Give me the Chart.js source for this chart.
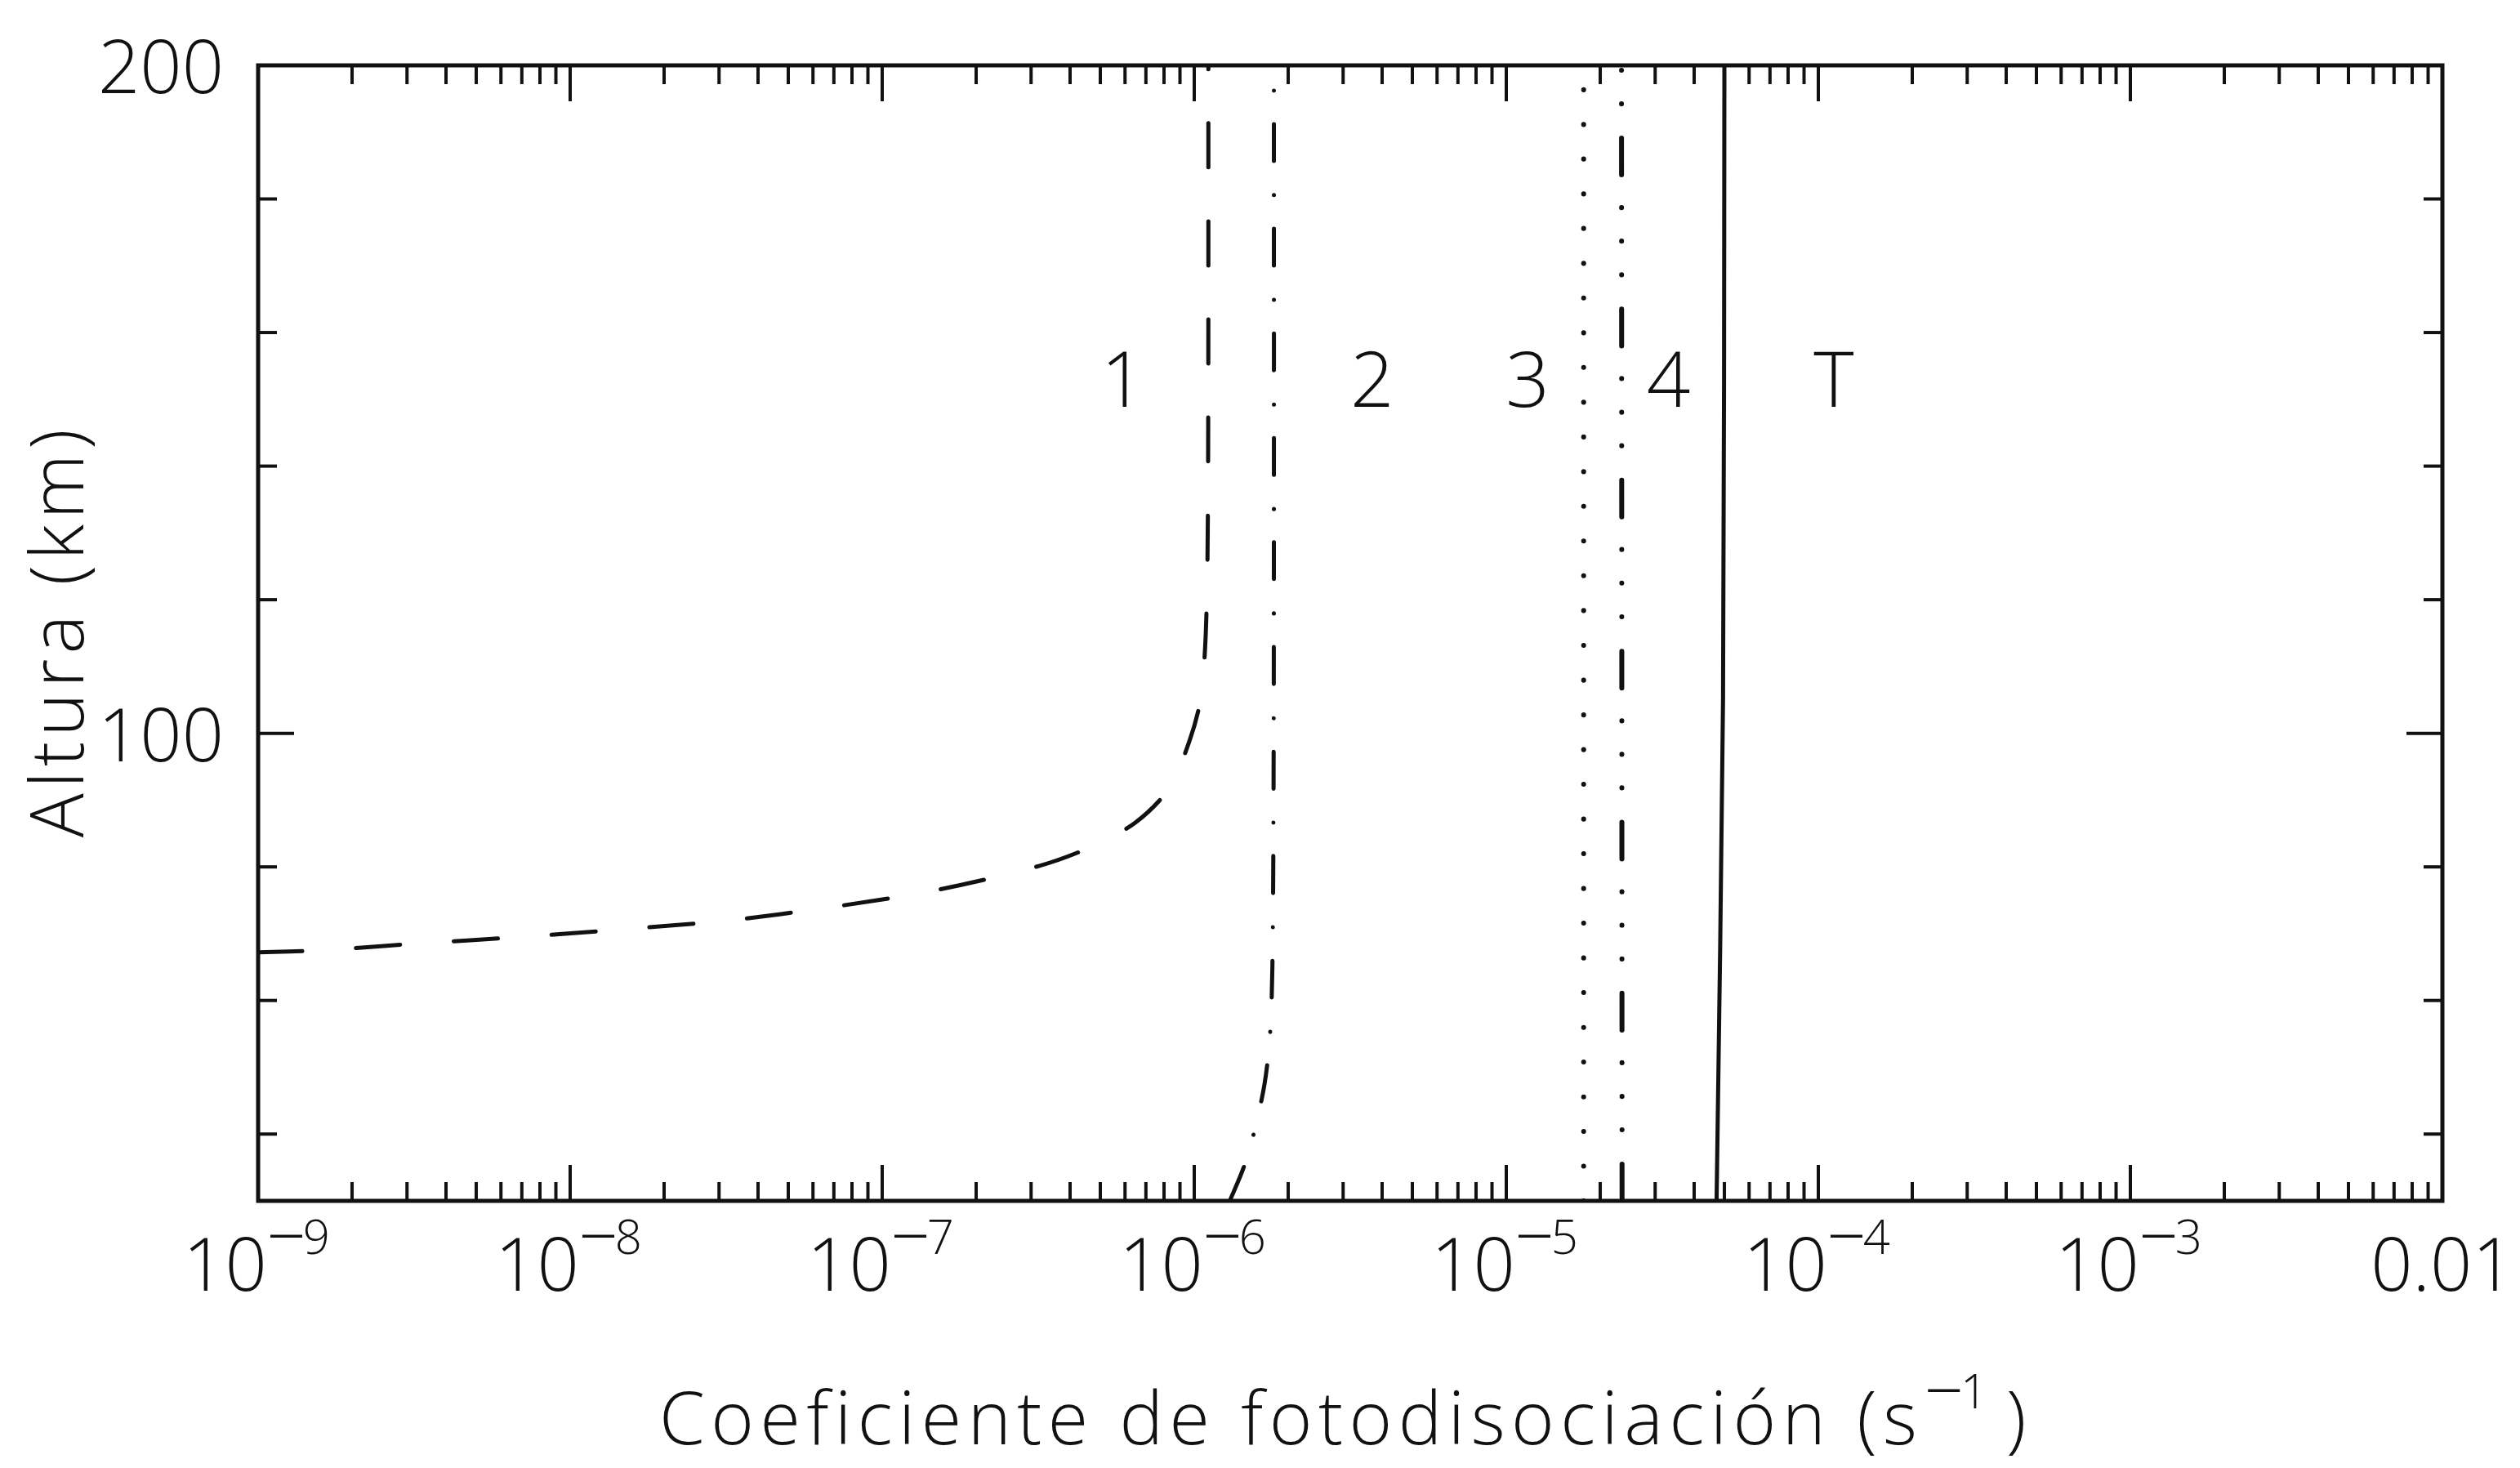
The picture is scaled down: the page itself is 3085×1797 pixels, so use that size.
<!DOCTYPE html>
<html>
<head>
<meta charset="utf-8">
<script src="https://cdn.jsdelivr.net/npm/chart.js@4.4.1/dist/chart.umd.min.js"></script>
<style>
html,body{margin:0;padding:0;background:#ffffff;}
#wrap{width:3085px;height:1797px;position:relative;background:#ffffff;}
canvas{display:block;}
</style>
</head>
<body>
<div id="wrap"><canvas id="c" width="3085" height="1797"></canvas></div>
<script>
// ---------------- data ----------------
const xMin = 1e-9, xMax = 1e-2;
const yMin = 30, yMax = 200;

const xMajorTicks = [1e-9, 1e-8, 1e-7, 1e-6, 1e-5, 1e-4, 1e-3, 1e-2];
const xTickBase   = ['10', '10', '10', '10', '10', '10', '10', '0.01'];
const xTickExp    = ['\u22129', '\u22128', '\u22127', '\u22126', '\u22125', '\u22124', '\u22123', ''];
const yMajorTicks = [100, 200];
const yTickLabels = ['100', '200'];
const yMinorTicks = [40, 60, 80, 120, 140, 160, 180];

// Curve 1 (long dashes)
const curve1X = [1.00e-9, 1.585e-9, 3.16e-9, 6.92e-9, 1.51e-8, 3.24e-8, 6.92e-8, 1.48e-7, 3.16e-7,
                 4.57e-7, 6.46e-7, 8.32e-7, 9.66e-7, 1.047e-6, 1.084e-6, 1.102e-6, 1.109e-6, 1.11e-6];
const curve1Y = [67.2, 67.5, 68.5, 69.5, 70.7, 72.0, 74.0, 76.5, 80.1,
                 82.8, 86.6, 91.8, 98.9, 105, 113, 125, 150, 200];

// Curve 2 (dash-dot)
const curve2X = [1.30e-6, 1.44e-6, 1.55e-6, 1.68e-6, 1.75e-6, 1.78e-6, 1.795e-6, 1.80e-6, 1.80e-6];
const curve2Y = [30, 35, 40, 47.5, 55, 65, 90, 130, 200];

// Curve 3 (dotted)
const curve3X = [1.77e-5, 1.77e-5];
const curve3Y = [30, 200];

// Curve 4 (dash-dot-dot-dot)
const curve4X = [2.35e-5, 2.34e-5];
const curve4Y = [30, 200];

// Curve T (solid)
const curveTX = [4.72e-5, 4.95e-5, 5.0e-5];
const curveTY = [30, 105, 200];

// In-plot labels
const labelText = ['1', '2', '3', '4', 'T'];
const labelX    = [5.9e-7, 3.72e-6, 1.17e-5, 3.31e-5, 1.12e-4];
const labelY    = [153, 153, 153, 153, 153];

const xTitleMain = 'Coeficiente de fotodisociaci\u00f3n (s';
const xTitleSup  = '\u22121';
const xTitleEnd  = ')';
const yTitle     = 'Altura (km)';

// ---------------- chart ----------------
const FONT = "'Open Sans', 'DejaVu Sans', sans-serif";
const toPts = (xs, ys) => xs.map((x, i) => ({ x: x, y: ys[i] }));

function ds(label, xs, ys, dash, width) {
  return {
    label: label,
    data: toPts(xs, ys),
    showLine: true,
    borderColor: '#111111',
    backgroundColor: '#111111',
    borderWidth: width,
    borderDash: dash,
    borderCapStyle: 'round',
    pointRadius: 0,
    pointHoverRadius: 0,
    tension: 0.3,
    fill: false
  };
}

function fitText(ctx, text, x, y, targetW, align) {
  ctx.letterSpacing = '0px';
  const w = ctx.measureText(text).width;
  const n = Math.max(1, text.length - 1);
  const ls = (targetW - w) / n;
  ctx.letterSpacing = ls + 'px';
  const w2 = ctx.measureText(text).width;
  let sx = x;
  if (align === 'center') sx = x - w2 / 2;
  else if (align === 'right') sx = x - w2;
  ctx.textAlign = 'left';
  ctx.fillText(text, sx, y);
  ctx.letterSpacing = '0px';
  return w2;
}

// superscript: wide minus + smaller digits
const MINUS_FONT = '300 84px ' + FONT;
const SUP_FONT = '300 58px ' + FONT;
function measureSup(ctx, s) {
  ctx.font = MINUS_FONT;
  const wm = ctx.measureText(s[0]).width;
  ctx.font = SUP_FONT;
  const wd = ctx.measureText(s.slice(1)).width;
  return wm + wd;
}
function drawSup(ctx, s, x, base) {
  ctx.textAlign = 'left';
  ctx.font = MINUS_FONT;
  const wm = ctx.measureText(s[0]).width;
  ctx.fillText(s[0], x, base + 8);
  ctx.font = SUP_FONT;
  ctx.fillText(s.slice(1), x + wm - 4, base);
}

const decor = {
  id: 'decor',
  afterDraw(chart) {
    const ctx = chart.ctx;
    const a = chart.chartArea;
    const xs = chart.scales.x, ys = chart.scales.y;
    ctx.save();
    ctx.strokeStyle = '#111111';
    ctx.fillStyle = '#111111';
    ctx.lineCap = 'butt';

    // frame
    ctx.lineWidth = 5;
    ctx.strokeRect(a.left, a.top, a.right - a.left, a.bottom - a.top);

    // x ticks (inward, bottom and top)
    ctx.lineWidth = 4;
    const MAJ = 44, MIN = 23;
    const vTick = (px, len) => {
      ctx.beginPath(); ctx.moveTo(px, a.bottom); ctx.lineTo(px, a.bottom - len); ctx.stroke();
      ctx.beginPath(); ctx.moveTo(px, a.top); ctx.lineTo(px, a.top + len); ctx.stroke();
    };
    xMajorTicks.forEach(v => vTick(xs.getPixelForValue(v), MAJ));
    for (let i = 0; i < xMajorTicks.length - 1; i++) {
      for (let m = 2; m <= 9; m++) vTick(xs.getPixelForValue(m * xMajorTicks[i]), MIN);
    }
    // y ticks (inward, left and right)
    const hTick = (py, len) => {
      ctx.beginPath(); ctx.moveTo(a.left, py); ctx.lineTo(a.left + len, py); ctx.stroke();
      ctx.beginPath(); ctx.moveTo(a.right, py); ctx.lineTo(a.right - len, py); ctx.stroke();
    };
    yMajorTicks.forEach(v => hTick(ys.getPixelForValue(v), MAJ));
    yMinorTicks.forEach(v => hTick(ys.getPixelForValue(v), MIN));

    // x tick labels
    const baseY = a.bottom + 110;
    ctx.textBaseline = 'alphabetic';
    xMajorTicks.forEach((v, i) => {
      const px = xs.getPixelForValue(v);
      ctx.font = '300 90px ' + FONT;
      const wb = ctx.measureText(xTickBase[i]).width;
      let we = 0;
      if (xTickExp[i]) we = measureSup(ctx, xTickExp[i]);
      const start = px - (wb + we) / 2;
      ctx.font = '300 90px ' + FONT;
      ctx.textAlign = 'left';
      ctx.fillText(xTickBase[i], start, baseY);
      if (xTickExp[i]) drawSup(ctx, xTickExp[i], start + wb, baseY - 45);
    });

    // y tick labels
    ctx.font = '300 90px ' + FONT;
    ctx.textAlign = 'right';
    ctx.textBaseline = 'alphabetic';
    yMajorTicks.forEach((v, i) => {
      const py = ys.getPixelForValue(v);
      ctx.fillText(yTickLabels[i], a.left - 42, py + 34);
    });

    // in-plot labels
    ctx.font = '300 94px ' + FONT;
    ctx.textAlign = 'center';
    labelText.forEach((t, i) => {
      ctx.fillText(t, xs.getPixelForValue(labelX[i]), ys.getPixelForValue(labelY[i]) + 34);
    });

    // x title
    ctx.textBaseline = 'alphabetic';
    ctx.font = '300 90px ' + FONT;
    const tx0 = 807, tBase = 1768;
    fitText(ctx, xTitleMain, tx0, tBase, 1540, 'left');
    drawSup(ctx, xTitleSup, 2356, tBase - 44);
    ctx.font = '300 90px ' + FONT;
    ctx.textAlign = 'left';
    ctx.fillText(xTitleEnd, 2456, tBase);

    // y title
    ctx.save();
    ctx.translate(102, 772);
    ctx.rotate(-Math.PI / 2);
    ctx.font = '300 90px ' + FONT;
    ctx.textBaseline = 'alphabetic';
    fitText(ctx, yTitle, 0, 0, 500, 'center');
    ctx.restore();

    ctx.restore();
  }
};

new Chart(document.getElementById('c').getContext('2d'), {
  type: 'scatter',
  data: {
    datasets: [
      ds('1', curve1X, curve1Y, [54, 66], 5),
      ds('2', curve2X, curve2Y, [45, 41, 0.1, 41.9], 5),
      ds('3', curve3X, curve3Y, [0.1, 42.4], 6),
      ds('4', curve4X, curve4Y, [45, 42, 0.1, 41, 0.1, 41, 0.1, 40], 6),
      ds('T', curveTX, curveTY, [], 5)
    ]
  },
  options: {
    responsive: false,
    animation: false,
    devicePixelRatio: 1,
    layout: { padding: { top: 80, right: 95, left: 0, bottom: 0 } },
    plugins: { legend: { display: false }, tooltip: { enabled: false } },
    scales: {
      x: {
        type: 'logarithmic', min: xMin, max: xMax, position: 'bottom',
        ticks: { display: false }, grid: { display: false }, border: { display: false },
        afterFit(s) { s.height = 1797 - 1470; }
      },
      y: {
        type: 'linear', min: yMin, max: yMax, position: 'left',
        ticks: { display: false }, grid: { display: false }, border: { display: false },
        afterFit(s) { s.width = 316; }
      }
    }
  },
  plugins: [decor]
});
</script>
</body>
</html>
